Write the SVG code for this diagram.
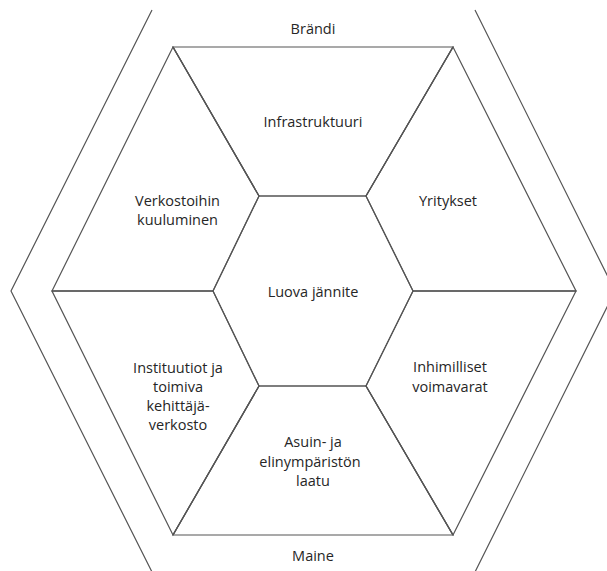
<svg xmlns="http://www.w3.org/2000/svg" width="607" height="571" viewBox="0 0 607 571">
<style>
  .sh { fill: none; stroke: #555; stroke-width: 1.2; stroke-linejoin: miter; }
  .fr { fill: none; stroke: #555; stroke-width: 1.2; }
  text { font-family: "Open Sans", "Liberation Sans", sans-serif; font-size: 14.5px; fill: #262626; text-anchor: middle; }
</style>
<rect width="607" height="571" fill="#fff"/>
<g id="frame">
  <polyline class="fr" points="152,10 11,291 152,572"/>
  <polyline class="fr" points="475,10 615,291 475,572"/>
  <text x="313" y="34">Brändi</text>
  <text x="313" y="561">Maine</text>
</g>
<g id="connectors">
  <line class="fr" x1="259" y1="196" x2="173" y2="47"/>
  <line class="fr" x1="366" y1="196" x2="453" y2="47"/>
  <line class="fr" x1="413" y1="291" x2="576" y2="291"/>
  <line class="fr" x1="366" y1="386" x2="453" y2="535"/>
  <line class="fr" x1="259" y1="386" x2="173" y2="535"/>
  <line class="fr" x1="213" y1="291" x2="52" y2="291"/>
</g>
<g id="infrastruktuuri">
  <polygon class="sh" points="173,47 453,47 366,196 259,196"/>
  <text x="313" y="127">Infrastruktuuri</text>
</g>
<g id="yritykset">
  <polygon class="sh" points="453,47 576,291 413,291 366,196"/>
  <text x="448" y="206">Yritykset</text>
</g>
<g id="inhimilliset">
  <polygon class="sh" points="576,291 453,535 366,386 413,291"/>
  <text x="450" y="372">Inhimilliset</text>
  <text x="450" y="392">voimavarat</text>
</g>
<g id="asuin">
  <polygon class="sh" points="453,535 173,535 259,386 366,386"/>
  <text x="313" y="447">Asuin- ja</text>
  <text x="310" y="466.5">elinympäristön</text>
  <text x="313" y="486">laatu</text>
</g>
<g id="instituutiot">
  <polygon class="sh" points="173,535 52,291 213,291 259,386"/>
  <text x="178" y="373">Instituutiot ja</text>
  <text x="178" y="392">toimiva</text>
  <text x="178" y="411">kehittäjä-</text>
  <text x="178" y="430">verkosto</text>
</g>
<g id="verkostoihin">
  <polygon class="sh" points="52,291 173,47 259,196 213,291"/>
  <text x="177.5" y="206">Verkostoihin</text>
  <text x="177.5" y="225">kuuluminen</text>
</g>
<g id="luova">
  <polygon class="sh" points="259,196 366,196 413,291 366,386 259,386 213,291"/>
  <text x="313" y="297">Luova jännite</text>
</g>
</svg>
